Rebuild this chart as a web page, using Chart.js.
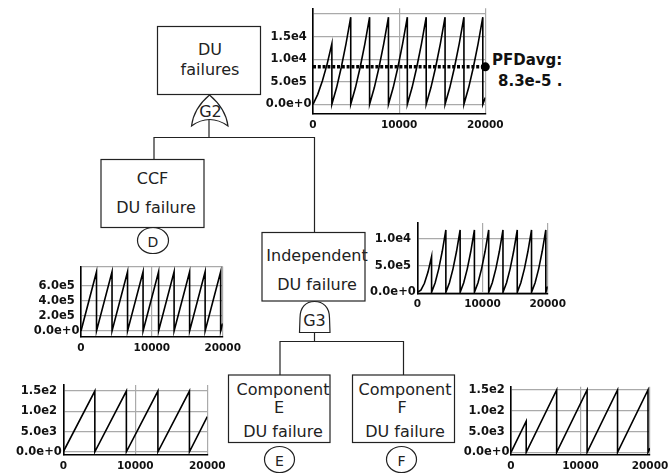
<!DOCTYPE html>
<html>
<head>
<meta charset="utf-8">
<script src="https://cdn.jsdelivr.net/npm/chart.js@4.4.1/dist/chart.umd.min.js"></script>
<style>
  body { margin: 0; background: #fff; }
  #page { position: relative; width: 670px; height: 475px; overflow: hidden; background: #fff; }
  #page canvas { position: absolute; }
  #tree { position: absolute; left: 0; top: 0; }
  #tree text { font-family: "DejaVu Sans", sans-serif; fill: #222; }
</style>
</head>
<body>
<div id="page">
  <svg id="tree" width="670" height="475">
    <g fill="none" stroke="#222" stroke-width="1.2">
      <rect x="157.5" y="26.5" width="103" height="68"/>
      <path d="M209.5 95 C200 103 193 114 191.5 126 Q209.5 113 228 126 C226.5 114 219 103 209.5 95 Z"/>
      <line x1="209" y1="119.5" x2="209" y2="137.5"/>
      <polyline points="154,159.5 154,137.5 314.5,137.5 314.5,232.5"/>
      <rect x="101" y="159.5" width="103" height="68"/>
      <ellipse cx="153" cy="240.5" rx="15.5" ry="13"/>
      <rect x="262" y="232.5" width="103" height="68.5"/>
      <path d="M299.5 332.5 L300 318 C300 307 306 301.5 314.5 301.5 C323 301.5 329.5 307 329.5 318 L330 332.5 Z"/>
      <line x1="314.5" y1="332.5" x2="314.5" y2="341.5"/>
      <polyline points="280,375 280,341.5 403.5,341.5 403.5,375"/>
      <rect x="228.5" y="375" width="101.5" height="67.5"/>
      <rect x="352.5" y="375" width="102" height="67.5"/>
      <ellipse cx="279.5" cy="459.5" rx="15" ry="13"/>
      <ellipse cx="401.5" cy="459.5" rx="15" ry="13"/>
    </g>
    <g font-size="16" text-anchor="middle">
      <text x="210" y="55">DU</text>
      <text x="210" y="75">failures</text>
      <text x="152.5" y="183.5">CCF</text>
      <text x="156" y="212.5">DU failure</text>
      <text x="317" y="261">Independent</text>
      <text x="317" y="290">DU failure</text>
      <text x="283" y="394.5">Component</text>
      <text x="279" y="413">E</text>
      <text x="283" y="436.5">DU failure</text>
      <text x="405" y="394.5">Component</text>
      <text x="402" y="413">F</text>
      <text x="405" y="436.5">DU failure</text>
      <text x="210.5" y="116.5">G2</text>
      <text x="314.5" y="326">G3</text>
    </g>
    <g font-size="14" text-anchor="middle">
      <text x="153" y="246.5">D</text>
      <text x="279.5" y="466">E</text>
      <text x="401.5" y="466">F</text>
    </g>
    <g font-size="15" font-weight="bold">
      <text x="492" y="65" style="fill:#111">PFDavg:</text>
      <text x="498" y="86" style="fill:#111">8.3e-5 .</text>
    </g>
  </svg>
  <canvas id="topChart"></canvas>
  <canvas id="ccfChart"></canvas>
  <canvas id="indChart"></canvas>
  <canvas id="compEChart"></canvas>
  <canvas id="compFChart"></canvas>
</div>
<script>
// time axis (hours)
const xTicks = [0, 10000, 20000];
const xLabels = ['0', '10000', '20000'];

// times for the curved teeth (top event and independent failure), test interval 2190 h
const teethT = [0, 550, 1095, 1640, 2190,
  2190, 2740, 3285, 3830, 4380,
  4380, 4930, 5475, 6020, 6570,
  6570, 7120, 7665, 8210, 8760,
  8760, 9310, 9855, 10400, 10950,
  10950, 11500, 12045, 12590, 13140,
  13140, 13690, 14235, 14780, 15330,
  15330, 15880, 16425, 16970, 17520,
  17520, 18070, 18615, 19160, 19710,
  19710, 20000];

// DU failures (top), units of 1e-5
const topPfd = [0, 2.2, 5.2, 8.9, 13.4,
  0, 3.7, 8.2, 13.4, 19.3,
  0, 3.7, 8.2, 13.4, 19.3,
  0, 3.7, 8.2, 13.4, 19.3,
  0, 3.7, 8.2, 13.4, 19.3,
  0, 3.7, 8.2, 13.4, 19.3,
  0, 3.7, 8.2, 13.4, 19.3,
  0, 3.7, 8.2, 13.4, 19.3,
  0, 3.7, 8.2, 13.4, 19.3,
  0, 1.5];
const pfdAvg = 8.3;
const topYTicks = [0, 5, 10, 15, 20];
const topYLabels = ['0.0e+0', '5.0e5', '1.0e4', '1.5e4', ''];

// CCF DU failure, units of 1e-5
const ccfT = [0, 2190, 2190, 4380, 4380, 6570, 6570, 8760, 8760, 10950,
  10950, 13140, 13140, 15330, 15330, 17520, 17520, 19710, 19710, 20000];
const ccfPfd = [0, 7.9, 0, 7.9, 0, 7.9, 0, 7.9, 0, 7.9,
  0, 7.9, 0, 7.9, 0, 7.9, 0, 7.9, 0, 1.0];
const ccfYTicks = [0, 2, 4, 6];
const ccfYLabels = ['0.0e+0', '2.0e5', '4.0e5', '6.0e5'];

// Independent DU failure, units of 1e-5
const indPfd = [0, 0.4, 1.7, 3.8, 6.7,
  0, 1.8, 4.4, 7.7, 11.7,
  0, 1.8, 4.4, 7.7, 11.7,
  0, 1.8, 4.4, 7.7, 11.7,
  0, 1.8, 4.4, 7.7, 11.7,
  0, 1.8, 4.4, 7.7, 11.7,
  0, 1.8, 4.4, 7.7, 11.7,
  0, 1.8, 4.4, 7.7, 11.7,
  0, 1.8, 4.4, 7.7, 11.7,
  0, 1.1];
const indYTicks = [0, 5, 10];
const indYLabels = ['0.0e+0', '5.0e5', '1.0e4'];

// Components E and F, units of 1e-3
const compET = [0, 4380, 4380, 8760, 8760, 13140, 13140, 17520, 17520, 20000];
const compEPfd = [0, 15, 0, 15, 0, 15, 0, 15, 0, 8.7];
const compFT = [0, 2190, 2190, 6570, 6570, 10950, 10950, 15330, 15330, 19710, 19710, 20000];
const compFPfd = [0, 7.5, 0, 15, 0, 15, 0, 15, 0, 15, 0, 1.0];
const compYTicks = [0, 5, 10, 15];
const compYLabels = ['0.0e+0', '5.0e3', '1.0e2', '1.5e2'];

const gridColor = '#aaaaaa';
const tickFont = { family: 'DejaVu Sans', weight: 'bold', size: 11.5 };
const xFont = { family: 'DejaVu Sans', weight: 'bold', size: 10.5 };

function makeChart(id, box, xs, ys, yTicks, yLabels, extra) {
  const cv = document.getElementById(id);
  const left = Math.floor(box.l - 60), top = Math.floor(box.t - 10);
  const right = Math.ceil(box.r + 22), bottom = Math.ceil(box.b + 24);
  cv.width = right - left;
  cv.height = bottom - top;
  cv.style.left = left + 'px';
  cv.style.top = top + 'px';
  const yw = box.l - left, xh = bottom - box.b;
  const yt = yTicks.slice(), yl = yLabels.slice();
  if (box.topLine) { yt.push(box.yMax); yl.push(''); }

  const datasets = [{
    data: xs.map((x, i) => ({ x: x, y: ys[i] })),
    borderColor: '#000', borderWidth: 1.6, pointRadius: 0, tension: 0
  }];
  if (extra) datasets.push(extra);

  return new Chart(cv, {
    type: 'line',
    data: { datasets: datasets },
    options: {
      responsive: false, animation: false, devicePixelRatio: 1, events: [],
      layout: { padding: { left: 0, top: box.t - top, right: right - box.r, bottom: 0 } },
      plugins: { legend: { display: false }, tooltip: { enabled: false } },
      scales: {
        x: {
          type: 'linear', min: 0, max: 20000,
          afterBuildTicks: s => { s.ticks = xTicks.map(v => ({ value: v })); },
          afterFit: s => { s.height = xh; s.paddingLeft = 0; s.paddingRight = 0; },
          grid: { color: gridColor, lineWidth: 1.2, drawTicks: false },
          border: { color: '#000', width: 1.6 },
          ticks: { autoSkip: false, maxRotation: 0, padding: 5, color: '#111', font: xFont,
            callback: (v, i) => xLabels[i] }
        },
        y: {
          type: 'linear', min: box.yMin, max: box.yMax,
          afterBuildTicks: s => { s.ticks = yt.map(v => ({ value: v })); },
          afterFit: s => { s.width = yw; s.paddingTop = 0; s.paddingBottom = 0; },
          grid: { color: gridColor, lineWidth: 1.2, drawTicks: false },
          border: { color: '#000', width: 1.6 },
          ticks: { autoSkip: false, padding: 1.5, crossAlign: 'center', color: '#111', font: tickFont,
            callback: (v, i) => yl[i] }
        }
      }
    }
  });
}

makeChart('topChart', { l: 313, r: 485.3, t: 8.3, b: 114, yMin: -2.15, yMax: 21.26 },
  teethT, topPfd, topYTicks, topYLabels, {
    data: [{ x: 0, y: pfdAvg }, { x: 20000, y: pfdAvg }],
    borderColor: '#000', borderWidth: 3.5, borderDash: [3, 1.8],
    pointRadius: [0, 4.5], pointBackgroundColor: '#000', pointBorderWidth: 0, clip: false
  });
makeChart('ccfChart', { l: 81, r: 222.7, t: 266.5, b: 337, yMin: -0.8, yMax: 8.6, topLine: true },
  ccfT, ccfPfd, ccfYTicks, ccfYLabels);
makeChart('indChart', { l: 417.3, r: 547.7, t: 223, b: 293.4, yMin: -0.2, yMax: 13.0 },
  teethT, indPfd, indYTicks, indYLabels);
makeChart('compEChart', { l: 63.3, r: 207.3, t: 385, b: 455, yMin: -0.8, yMax: 16.5 },
  compET, compEPfd, compYTicks, compYLabels);
makeChart('compFChart', { l: 511, r: 650, t: 386.7, b: 455, yMin: -0.65, yMax: 15.8 },
  compFT, compFPfd, compYTicks, compYLabels);
</script>
</body>
</html>
